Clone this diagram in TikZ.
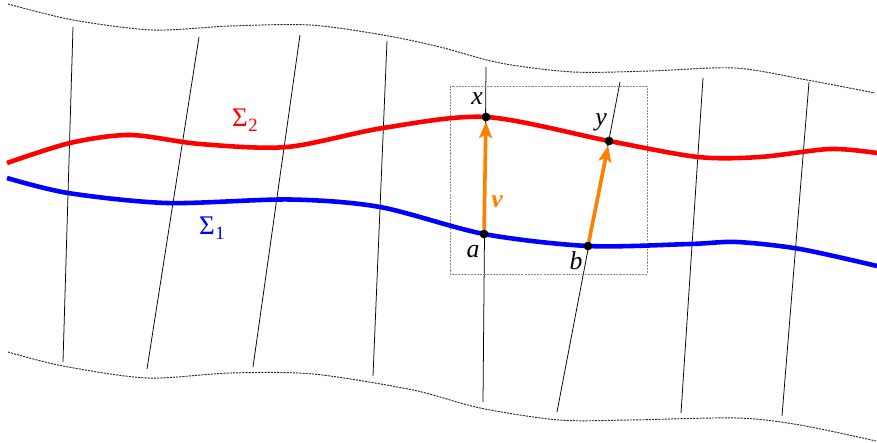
\documentclass[tikz,border=0pt]{standalone}
\usepackage{fontspec}
\setmainfont{Liberation Serif}
\usetikzlibrary{arrows.meta}
\definecolor{sred}{RGB}{255,0,0}
\definecolor{sblue}{RGB}{0,0,255}
\definecolor{sorange}{RGB}{255,128,0}
\newcommand{\sigmalab}[1]{{\fontsize{23}{26}\selectfont Σ}\kern0.3pt\raisebox{-4.5pt}{\fontsize{16}{18}\selectfont #1}}
\begin{document}
\begin{tikzpicture}[x=0.3mm,y=-0.3mm,
  bound/.style={line width=0.8pt,dash pattern=on 1.8pt off 0.9pt,black!85},
  fiber/.style={line width=0.65pt,black},
  surf/.style={line width=3.9pt},
  vec/.style={line width=3.1pt,sorange,-{Stealth[length=14pt,width=11pt,inset=3pt]}},
  pt/.style={circle,fill=black,inner sep=0pt,minimum size=7.5pt},
  lab/.style={font=\fontsize{22}{26}\selectfont\itshape,inner sep=0pt},
  slab/.style={inner sep=0pt}]
\useasboundingbox (0,0) rectangle (877,443);
% boundaries
\draw[bound] plot[smooth,tension=0.5] coordinates {(8,4) (73,20) (153,30) (230,26) (310,25) (383,35) (440,47) (500,63) (573,72) (650,71) (735,68) (807,80) (875,93)};
\draw[bound] plot[smooth,tension=0.5] coordinates {(8,352) (63,366) (147,378) (230,373) (313,374) (413,390) (480,408) (559,420) (630,420) (737,418) (800,425) (876,441)};
% fibres
\draw[fiber] (73,27) -- (63,362);
\draw[fiber] (199,37) -- (147,369);
\draw[fiber] (300,35) -- (253,367);
\draw[fiber] (387,41) -- (373,376);
\draw[fiber] (486,67) -- (483,402);
\draw[fiber] (620,82) -- (557,412);
\draw[fiber] (703,78) -- (681,413);
\draw[fiber] (809,82) -- (782,416);
% box
\draw[line width=0.8pt,black!45,dash pattern=on 1.8pt off 0.9pt] (450,86) rectangle (647,274);
% surfaces
\draw[surf,sred] plot[smooth,tension=0.5] coordinates {(7,163) (70,143) (130,135) (200,144) (287,147) (383,128) (486,117) (609,141) (698,157) (760,157) (830,149) (877,153)};
\draw[surf,sblue] plot[smooth,tension=0.5] coordinates {(7,178) (68,193) (167,203) (290,199.5) (380,207) (484,234) (588,246) (690,244) (737,242) (800,249) (877,266)};
% points
\node[pt] (x) at (486,117) {};
\node[pt] (y) at (609,141) {};
\node[pt] (a) at (484,234) {};
\node[pt] (b) at (588,246) {};
\draw[vec] (a) -- (x);
\draw[vec] (b) -- (y);
% labels
\node[lab] (lx) at (477,99) {x};
\node[lab] (ly) at (601,122) {y};
\node[lab] (la) at (473,252) {a};
\node[lab] (lb) at (576,261) {b};
\node[lab,sorange,font=\fontsize{22}{26}\selectfont\bfseries\itshape] (lv) at (497,202) {v};
\node[slab,sred,anchor=west] (s2) at (232,120) {\sigmalab{2}};
\node[slab,sblue,anchor=west] (s1) at (199,228) {\sigmalab{1}};
\end{tikzpicture}
\end{document}
